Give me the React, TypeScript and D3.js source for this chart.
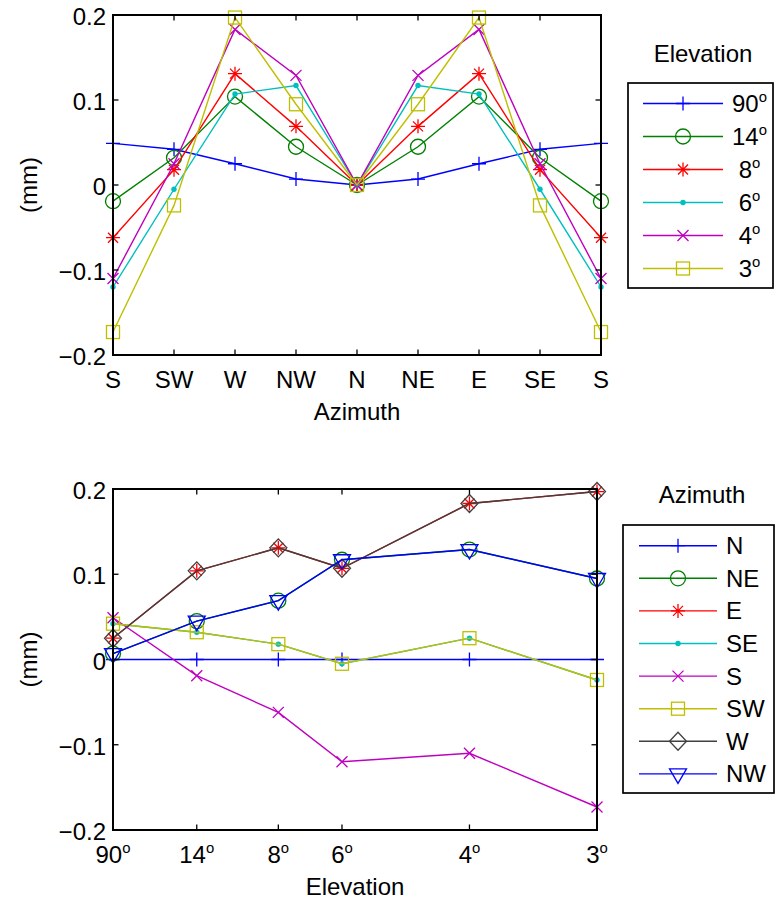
import React from 'react';
import * as d3 from 'd3';

// ---- data ----
const azimuthLabels = ['S', 'SW', 'W', 'NW', 'N', 'NE', 'E', 'SE', 'S'];
const elevations = [90, 14, 8, 6, 4, 3];
const elevationLabels = ['90', '14', '8', '6', '4', '3'];
const legendElevLabels = ['90', '14', ' 8', ' 6', ' 4', ' 3'];
// values (mm) per azimuth, at elevations 90,14,8,6,4,3
const valN = [0, 0, 0, 0, 0, 0];
const valNE = [0.007, 0.045, 0.069, 0.117, 0.129, 0.095];
const valE = [0.025, 0.104, 0.131, 0.107, 0.183, 0.197];
const valSE = [0.042, 0.032, 0.018, -0.005, 0.025, -0.024];
const valS = [0.049, -0.019, -0.062, -0.12, -0.11, -0.173];
const valSW = [0.042, 0.032, 0.018, -0.005, 0.025, -0.024];
const valW = [0.025, 0.104, 0.131, 0.107, 0.183, 0.197];
const valNW = [0.007, 0.045, 0.069, 0.117, 0.129, 0.095];
const azimuthNames = ['N', 'NE', 'E', 'SE', 'S', 'SW', 'W', 'NW'];
const azimuthSeries = [valN, valNE, valE, valSE, valS, valSW, valW, valNW];
const byAzimuthLabel: Record<string, number[]> = { N: valN, NE: valNE, E: valE, SE: valSE, S: valS, SW: valSW, W: valW, NW: valNW };
const yTicks = [-0.2, -0.1, 0, 0.1, 0.2];

// ---- styles ----
const FONT = '"Liberation Sans", Arial, Helvetica, sans-serif';
const FS = 24;
const LW = 1.4;
const elevColors = ['#0000ff', '#008000', '#ff0000', '#00bfbf', '#bf00bf', '#bfbf00'];
const elevMarkers = ['plus', 'circle', 'star', 'dot', 'x', 'square'];
const azColors = ['#0000ff', '#008000', '#ff0000', '#00bfbf', '#bf00bf', '#bfbf00', '#404040', '#0000ff'];
const azMarkers = ['plus', 'circle', 'star', 'dot', 'x', 'square', 'diamond', 'tri'];

function Marker({ type, x, y, color }: { type: string; x: number; y: number; color: string }) {
  const sw = 1.3;
  const common = { stroke: color, strokeWidth: sw, fill: 'none' };
  switch (type) {
    case 'plus':
      return <path d={`M${x - 7},${y}H${x + 7}M${x},${y - 7}V${y + 7}`} {...common} />;
    case 'circle':
      return <circle cx={x} cy={y} r={7.5} {...common} />;
    case 'star':
      return (
        <path
          d={`M${x - 7},${y}H${x + 7}M${x},${y - 7}V${y + 7}M${x - 5},${y - 5}L${x + 5},${y + 5}M${x - 5},${y + 5}L${x + 5},${y - 5}`}
          {...common}
        />
      );
    case 'dot':
      return <circle cx={x} cy={y} r={2.7} fill={color} stroke="none" />;
    case 'x':
      return <path d={`M${x - 5.5},${y - 5.5}L${x + 5.5},${y + 5.5}M${x - 5.5},${y + 5.5}L${x + 5.5},${y - 5.5}`} {...common} />;
    case 'square':
      return <rect x={x - 6.5} y={y - 6.5} width={13} height={13} {...common} />;
    case 'diamond':
      return <path d={`M${x},${y - 9}L${x + 8.5},${y}L${x},${y + 9}L${x - 8.5},${y}Z`} {...common} />;
    case 'tri':
      return <path d={`M${x - 8.5},${y - 5}L${x + 8.5},${y - 5}L${x},${y + 9.5}Z`} {...common} />;
    default:
      return null;
  }
}

function Deg({ text }: { text: string }) {
  return (
    <>
      {text}
      <tspan fontSize={FS * 0.62} dy={-FS * 0.42}>o</tspan>
    </>
  );
}

type Series = { values: number[]; color: string; marker: string };

function Axes({
  left, right, top, bottom, xs, xTickVals, xTickLabels, deg, series, xTitle,
}: {
  left: number; right: number; top: number; bottom: number;
  xs: d3.ScaleLinear<number, number>; xTickVals: number[]; xTickLabels: string[]; deg: boolean;
  series: Series[]; xTitle: string;
}) {
  const ys = d3.scaleLinear().domain([-0.2, 0.2]).range([bottom, top]);
  const line = d3.line<number>().x((_, i) => xs(xTickVals[i])).y((d) => ys(d));
  const tl = 5.5;
  const fmt = (v: number) => (v === 0 ? '0' : (v < 0 ? '\u2212' : '') + Math.abs(v).toFixed(1));
  return (
    <g>
      {series.map((s, si) => (
        <g key={si}>
          <path d={line(s.values) || ''} fill="none" stroke={s.color} strokeWidth={LW} />
          {s.values.map((v, i) => (
            <Marker key={i} type={s.marker} x={xs(xTickVals[i])} y={ys(v)} color={s.color} />
          ))}
        </g>
      ))}
      {/* box */}
      <rect x={left} y={top} width={right - left} height={bottom - top} fill="none" stroke="#000" strokeWidth={2} />
      {/* y ticks */}
      {yTicks.map((t) => (
        <g key={t}>
          <line x1={left} x2={left + tl} y1={ys(t)} y2={ys(t)} stroke="#000" strokeWidth={1.3} />
          <line x1={right} x2={right - tl} y1={ys(t)} y2={ys(t)} stroke="#000" strokeWidth={1.3} />
          <text x={left - 7} y={ys(t) + 10} textAnchor="end" fontFamily={FONT} fontSize={FS}>{fmt(t)}</text>
        </g>
      ))}
      {/* x ticks */}
      {xTickVals.map((v, i) => (
        <g key={i}>
          <line x1={xs(v)} x2={xs(v)} y1={bottom} y2={bottom - tl} stroke="#000" strokeWidth={1.3} />
          <line x1={xs(v)} x2={xs(v)} y1={top} y2={top + tl} stroke="#000" strokeWidth={1.3} />
          <text x={xs(v)} y={bottom + 33} textAnchor="middle" fontFamily={FONT} fontSize={FS}>
            {deg ? <Deg text={xTickLabels[i]} /> : xTickLabels[i]}
          </text>
        </g>
      ))}
      <text x={(left + right) / 2} y={bottom + 65} textAnchor="middle" fontFamily={FONT} fontSize={FS}>{xTitle}</text>
      <text
        transform={`translate(${37},${(top + bottom) / 2}) rotate(-90)`}
        textAnchor="middle"
        fontFamily={FONT}
        fontSize={FS}
      >
        (mm)
      </text>
    </g>
  );
}

function Legend({
  title, titleX, titleY, x, y, w, h, rowY0, rowStep, labels, colors, markers, lineX0, lineX1, textX, deg,
}: {
  title: string; titleX: number; titleY: number; x: number; y: number; w: number; h: number;
  rowY0: number; rowStep: number; labels: string[]; colors: string[]; markers: string[];
  lineX0: number; lineX1: number; textX: number; deg: boolean;
}) {
  return (
    <g>
      <text x={titleX} y={titleY} textAnchor="middle" fontFamily={FONT} fontSize={FS}>{title}</text>
      <rect x={x} y={y} width={w} height={h} fill="#fff" stroke="#000" strokeWidth={1.7} />
      {labels.map((l, i) => {
        const ry = rowY0 + i * rowStep;
        return (
          <g key={i}>
            <line x1={lineX0} x2={lineX1} y1={ry} y2={ry} stroke={colors[i]} strokeWidth={LW} />
            <Marker type={markers[i]} x={(lineX0 + lineX1) / 2} y={ry} color={colors[i]} />
            <text x={textX} y={ry + 8.5} fontFamily={FONT} fontSize={FS} style={{ whiteSpace: 'pre' }}>
              {deg ? <Deg text={l} /> : l}
            </text>
          </g>
        );
      })}
    </g>
  );
}

export default function App() {
  // top plot: deviation vs azimuth, one series per elevation
  const azIdx = azimuthLabels.map((_, i) => i);
  const xTop = d3.scaleLinear().domain([0, azimuthLabels.length - 1]).range([113, 601]);
  const topSeries: Series[] = elevations.map((_, ei) => ({
    values: azimuthLabels.map((a) => byAzimuthLabel[a][ei]),
    color: elevColors[ei],
    marker: elevMarkers[ei],
  }));

  // bottom plot: deviation vs elevation (airmass spacing), one series per azimuth
  const airmass = elevations.map((e) => 1 / Math.sin((e * Math.PI) / 180));
  const xBot = d3.scaleLinear().domain([airmass[0], airmass[airmass.length - 1]]).range([113, 597]);
  const botSeries: Series[] = azimuthSeries.map((vals, ai) => ({
    values: vals,
    color: azColors[ai],
    marker: azMarkers[ai],
  }));

  return (
    <svg width={777} height={900} style={{ position: 'absolute', left: 0, top: 0, background: '#fff' }}>
      <rect width={777} height={900} fill="#fff" />
      <Axes
        left={113} right={601} top={15} bottom={355}
        xs={xTop} xTickVals={azIdx} xTickLabels={azimuthLabels} deg={false}
        series={topSeries} xTitle="Azimuth"
      />
      <Legend
        title="Elevation" titleX={703} titleY={62}
        x={628} y={83} w={145} h={205}
        rowY0={103.5} rowStep={33} labels={legendElevLabels} colors={elevColors} markers={elevMarkers}
        lineX0={643} lineX1={723} textX={732} deg={true}
      />
      <Axes
        left={113} right={597} top={489} bottom={830}
        xs={xBot} xTickVals={airmass} xTickLabels={elevationLabels} deg={true}
        series={botSeries} xTitle="Elevation"
      />
      <Legend
        title="Azimuth" titleX={702} titleY={503}
        x={623} y={525} w={151} h={268}
        rowY0={545.7} rowStep={32.6} labels={azimuthNames} colors={azColors} markers={azMarkers}
        lineX0={639} lineX1={717} textX={726} deg={false}
      />
    </svg>
  );
}
